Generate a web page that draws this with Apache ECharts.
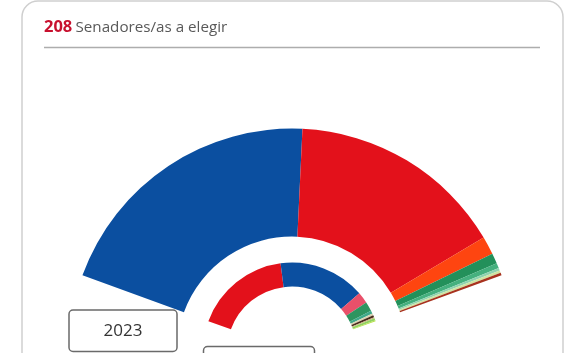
<!DOCTYPE html>
<html>
<head>
<meta charset="utf-8">
<script src="https://cdn.jsdelivr.net/npm/echarts@6/dist/echarts.min.js"></script>
<style>
html,body{margin:0;padding:0;background:#fff;}
#chart{width:588px;height:353px;}
</style>
</head>
<body>
<div id="chart"></div>
<script>
// 2023 (outer ring)
const outerParties = ['PP', 'PSOE', 'ERC', 'PNV', 'EH Bildu', 'Junts', 'CCa', 'ASG'];
const outerSeats   = [108, 84, 7, 4, 2, 1, 1, 1];
const outerColors  = ['#0b4fa0', '#e3111b', '#fe4510', '#23905a', '#45b07e', '#8fd3b0', '#cfe3a0', '#a8321e'];

// 2019 (inner ring)
const innerParties = ['PSOE', 'PP', 'ERC', 'PNV', 'JxCat', 'NA+', 'Teruel Existe', 'EH Bildu', 'Vox', 'ASG'];
const innerSeats   = [93, 84, 11, 9, 3, 2, 2, 1, 2, 1];
const innerColors  = ['#e3111b', '#0b4fa0', '#e9506a', '#2e9560', '#3fa98a', '#d9d2b0', '#4a2a1c', '#c8b27a', '#8fd35f', '#b5e04a'];

const totalSeats = '208';
const titleText = 'Senadores/as a elegir';
const yearLabels = ['2023', '2019'];

const chart = echarts.init(document.getElementById('chart'), null, {renderer: 'canvas'});

function toData(names, values, colors) {
  return names.map((n, i) => ({name: n, value: values[i], itemStyle: {color: colors[i]}}));
}

const pieCommon = {
  type: 'pie',
  center: [292, 351.6],
  startAngle: 160,
  endAngle: 20,
  clockwise: true,
  silent: true,
  label: {show: false},
  labelLine: {show: false},
  avoidLabelOverlap: false,
  itemStyle: {borderWidth: 0}
};

chart.setOption({
  animation: false,
  backgroundColor: '#ffffff',
  graphic: [
    {type: 'rect', shape: {x: 22, y: 1, width: 541, height: 400, r: 16},
     style: {fill: '#fff', stroke: '#cfcfcf', lineWidth: 1.5}, z: -10},
    {type: 'text', x: 44, y: 27.5, style: {text: totalSeats, fill: '#c8102e', font: 'bold 16.5px "Open Sans"', align: 'left', verticalAlign: 'middle'}},
    {type: 'text', x: 75.5, y: 27.5, style: {text: titleText, fill: '#595959', font: '15.2px "Open Sans"', align: 'left', verticalAlign: 'middle'}},
    {type: 'line', shape: {x1: 44, y1: 47.5, x2: 540, y2: 47.5}, style: {stroke: '#adadad', lineWidth: 1.5}},
    {type: 'rect', shape: {x: 69, y: 310, width: 108, height: 41.5, r: 4},
     style: {fill: '#fff', stroke: '#6a6a6a', lineWidth: 1.5}},
    {type: 'text', x: 123, y: 331, style: {text: yearLabels[0], fill: '#333', font: '17px "Open Sans"', align: 'center', verticalAlign: 'middle'}},
    {type: 'rect', shape: {x: 203.5, y: 346.5, width: 111, height: 42, r: 4},
     style: {fill: '#fff', stroke: '#6a6a6a', lineWidth: 1.5}}
  ],
  series: [
    Object.assign({}, pieCommon, {name: yearLabels[0], radius: [115, 223], data: toData(outerParties, outerSeats, outerColors)}),
    Object.assign({}, pieCommon, {name: yearLabels[1], radius: [65, 89], data: toData(innerParties, innerSeats, innerColors)})
  ]
});
</script>
</body>
</html>
